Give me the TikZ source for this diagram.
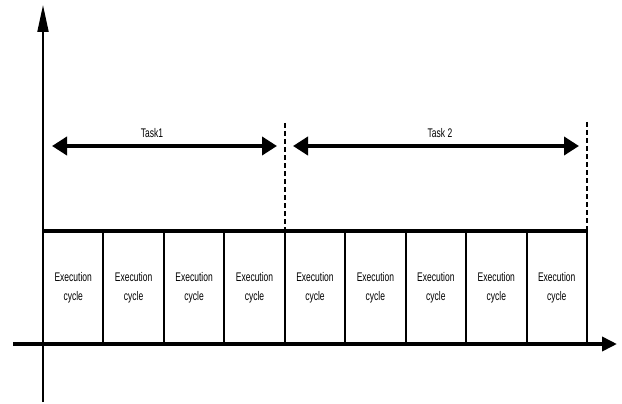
\documentclass[tikz,border=0pt]{standalone}
\usepackage{fontspec}
\setmainfont{Liberation Sans}
\newfontfamily\narrowsans[FakeStretch=0.68]{Liberation Sans}
\usetikzlibrary{arrows.meta}
\begin{document}
\begin{tikzpicture}[x=1pt,y=-1pt,
  axisline/.style={line width=2pt},
  timeline/.style={line width=3.6pt},
  divider/.style={line width=2pt},
  boundary/.style={line width=1.8pt,dash pattern=on 5pt off 3pt},
  spanarrow/.style={line width=4pt,{Triangle[length=15pt,width=18pt]}-{Triangle[length=15pt,width=18pt]}},
  lbl/.style={font=\narrowsans\fontsize{12.5}{19}\selectfont,align=center,inner sep=0pt},
  cyclebox/.style={lbl,minimum width=60pt,minimum height=110pt}]
\useasboundingbox (0,0) rectangle (622,404);

% axes
\coordinate (ybot) at (43,402);
\coordinate (ytop) at (43,5);
\coordinate (xleft) at (13,344);
\coordinate (xright) at (617,344);
\draw[axisline,-{Triangle[length=27pt,width=11pt]}] (ybot) -- (ytop);
\draw[timeline,-{Triangle[length=15pt,width=14pt]}] (xleft) -- (xright);

% execution cycles
\foreach \i in {1,...,9} {
  \node[cyclebox] (c\i) at ({43+60.44*(\i-0.5)},287.5) {Execution\\cycle};
}
\foreach \i in {1,...,9} {
  \draw[divider] ({43+60.44*\i},231) -- ({43+60.44*\i},344);
}
\draw[timeline] (43,231) -- (587,231);

% task boundaries
\coordinate (b1top) at (285,123);
\coordinate (b1bot) at (285,231);
\coordinate (b2top) at (587,122);
\coordinate (b2bot) at (587,231);
\draw[boundary] (b1top) -- (b1bot);
\draw[boundary] (b2top) -- (b2bot);

% task spans
\coordinate (t1a) at (52,146);
\coordinate (t1b) at (277,146);
\coordinate (t2a) at (293,146);
\coordinate (t2b) at (579,146);
\draw[spanarrow] (t1a) -- (t1b);
\draw[spanarrow] (t2a) -- (t2b);
\node[lbl] (task1) at (152,133) {Task1};
\node[lbl] (task2) at (440,133) {Task 2};
\end{tikzpicture}
\end{document}
